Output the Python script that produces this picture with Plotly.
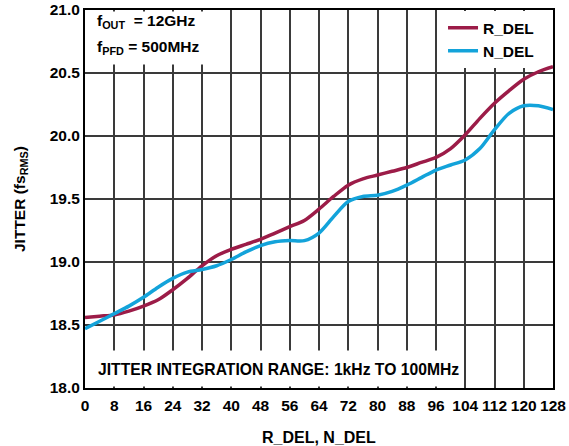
import plotly.graph_objects as go

x_vals = [0, 4, 8, 12, 16, 20, 24, 28, 32, 36, 40, 44, 48, 52, 56, 60, 64, 68, 72, 76, 80, 84, 88, 92, 96, 100, 104, 108, 112, 116, 120, 124, 128]
r_del = [18.56, 18.57, 18.58, 18.61, 18.65, 18.70, 18.78, 18.87, 18.97, 19.05, 19.10, 19.14, 19.18, 19.23, 19.28, 19.33, 19.42, 19.52, 19.61, 19.66, 19.69, 19.72, 19.75, 19.79, 19.83, 19.90, 20.01, 20.14, 20.26, 20.36, 20.45, 20.51, 20.55]
n_del = [18.47, 18.53, 18.59, 18.65, 18.72, 18.80, 18.87, 18.92, 18.94, 18.97, 19.02, 19.08, 19.13, 19.16, 19.17, 19.17, 19.23, 19.36, 19.48, 19.52, 19.53, 19.56, 19.61, 19.67, 19.73, 19.77, 19.81, 19.90, 20.05, 20.18, 20.24, 20.24, 20.21]

x_ticks = list(range(0, 129, 8))
y_ticks = [18.0, 18.5, 19.0, 19.5, 20.0, 20.5, 21.0]

FONT = "Liberation Sans"

fig = go.Figure()
fig.add_trace(go.Scatter(x=x_vals, y=r_del, mode="lines", name="<b>R_DEL</b>",
                         line=dict(color="#9C1C48", width=3.5, shape="spline", smoothing=0.8)))
fig.add_trace(go.Scatter(x=x_vals, y=n_del, mode="lines", name="<b>N_DEL</b>",
                         line=dict(color="#13A3DA", width=3.5, shape="spline", smoothing=0.8)))

fig.update_layout(
    width=569, height=446,
    margin=dict(l=85, r=16, t=10, b=58, autoexpand=False),
    paper_bgcolor="white", plot_bgcolor="white",
    font=dict(family=FONT, size=15, color="black"),
    showlegend=True,
    legend=dict(x=0.765, y=0.997, xanchor="left", yanchor="top",
                bgcolor="white", font=dict(family=FONT, size=15.5, color="black"),
                itemwidth=30, tracegroupgap=0, entrywidth=74, entrywidthmode="pixels"),
    xaxis=dict(range=[0, 128], tickvals=x_ticks, ticktext=[f"<b>{t}</b>" for t in x_ticks],
               showgrid=True, gridcolor="#3a3a3a", gridwidth=1.5,
               showline=True, linecolor="black", linewidth=2, mirror=True,
               ticks="", zeroline=False, automargin=False, ticklabelstandoff=2,
               ticklabeloverflow="allow", tickfont=dict(size=15.5)),
    yaxis=dict(range=[18.0, 21.0], tickvals=y_ticks, ticktext=[f"<b>{t:.1f}</b>" for t in y_ticks],
               showgrid=True, gridcolor="#3a3a3a", gridwidth=1.5,
               showline=True, linecolor="black", linewidth=2, mirror=True,
               ticks="", zeroline=False, automargin=False,
               ticklabeloverflow="allow", tickfont=dict(size=15.5)),
)

# white boxes (empty annotations) hiding gridlines behind the texts
for xa, ya, xs, ys, w, h, xan, yan in [
    (0, 1, 1, -1, 139, 52, "left", "top"),
    (0, 0, 1, 1, 374, 35, "left", "bottom"),
]:
    fig.add_annotation(x=xa, y=ya, xref="paper", yref="paper", xanchor=xan, yanchor=yan,
                       xshift=xs, yshift=ys, text=" ", width=w, height=h, borderpad=0,
                       bgcolor="white", showarrow=False)

# axis titles
fig.add_annotation(x=0, y=0.5, xref="paper", yref="paper", xanchor="center", yanchor="middle",
                   xshift=-65, textangle=-90, showarrow=False,
                   text="<b>JITTER (fs<sub>RMS</sub>)</b>", font=dict(family=FONT, size=15.5))
fig.add_annotation(x=0.5, y=0, xref="paper", yref="paper", xanchor="center", yanchor="middle",
                   yshift=-49, showarrow=False,
                   text="<b>R_DEL, N_DEL</b>", font=dict(family=FONT, size=16))

# in-plot notes
fig.add_annotation(x=0, y=1, xref="paper", yref="paper", xanchor="left", yanchor="top",
                   xshift=10, yshift=0, align="left", showarrow=False,
                   text="<b>f<sub>OUT</sub>  = 12GHz</b>",
                   font=dict(family=FONT, size=15.5, color="black"))
fig.add_annotation(x=0, y=1, xref="paper", yref="paper", xanchor="left", yanchor="top",
                   xshift=10, yshift=-26, align="left", showarrow=False,
                   text="<b>f<sub>PFD</sub> = 500MHz</b>",
                   font=dict(family=FONT, size=15.5, color="black"))
fig.add_annotation(x=0, y=0, xref="paper", yref="paper", xanchor="left", yanchor="middle",
                   xshift=11, yshift=19, align="left", showarrow=False,
                   text="<b>JITTER INTEGRATION RANGE: 1kHz TO 100MHz</b>",
                   font=dict(family=FONT, size=15.7, color="black"))

# remove the browser's default 8px body margin so the figure fills the window exactly
fig.write_html("out.html", config={"displayModeBar": False},
               post_script="document.body.style.margin='0';")
